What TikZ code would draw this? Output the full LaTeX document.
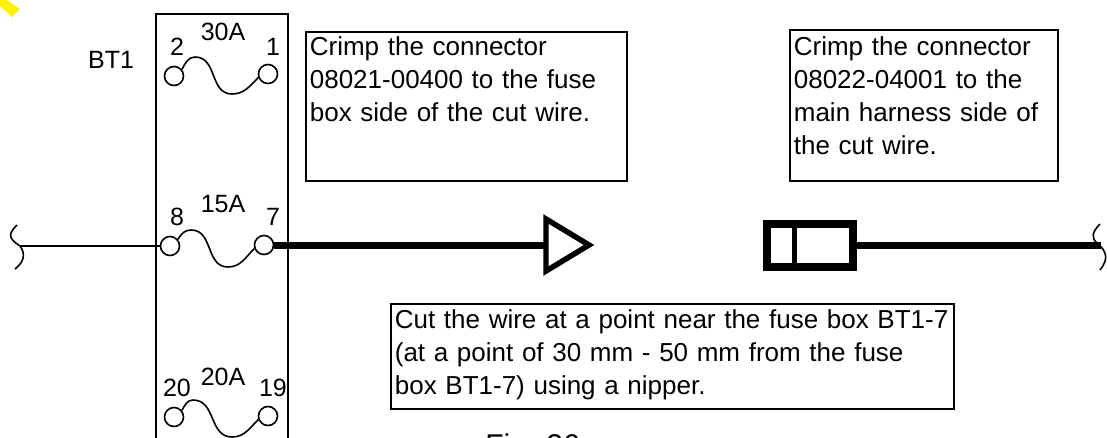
\documentclass[tikz,border=0pt]{standalone}
\usepackage{fontspec}
\setmainfont{Liberation Sans}
\usepackage{tikz}

\tikzset{
    tag/.style={inner sep=0pt, font=\fontsize{18.75}{24.75}\selectfont},
    pin/.style={circle, draw, line width=1.2pt, minimum size=14.25pt, inner sep=0pt},
    note/.style={draw, line width=1.3pt, anchor=north west, align=left, inner xsep=3pt, inner ysep=0pt, font=\fontsize{19.5}{24.75}\selectfont},
    fuse/.style={line width=1.2pt},
    thin wire/.style={line width=1.1pt},
    thick wire/.style={line width=5.25pt}
}

\begin{document}
\begin{tikzpicture}[x=0.75pt, y=-0.75pt]
    \clip (0,0) rectangle (1107,437);
    \fill[yellow] (7,0) -- (20,9) -- (12,17) -- (0,6) -- (0,0) -- cycle;

    \node[draw, line width=1.2pt, anchor=north west, minimum width=99pt, minimum height=340pt] (fusebox) at (155,13) {};
    \node[tag] (bt) at (111,60) {BT1};

    \node[pin] (p2) at (174,76) {};
    \node[pin] (p1) at (268,74) {};
    \coordinate (crest1) at (195,57);
    \coordinate (trough1) at (232,94);
    \draw[fuse] (p2.40) to[out=60,in=180] (crest1) to[out=0,in=180,looseness=1.1] (trough1) to[out=0,in=225] (p1.200);
    \node[tag] (n2) at (177,47) {2};
    \node[tag] (n1) at (273,47) {1};
    \node[tag] (a30) at (223,32) {30A};

    \node[pin] (p8) at (170,246) {};
    \node[pin] (p7) at (264,245) {};
    \coordinate (crest7) at (191,230);
    \coordinate (trough7) at (228,267);
    \draw[fuse] (p8.40) to[out=60,in=180] (crest7) to[out=0,in=180,looseness=1.1] (trough7) to[out=0,in=225] (p7.200);
    \node[tag] (n8) at (177,217) {8};
    \node[tag] (n7) at (273,217) {7};
    \node[tag] (a15) at (223,204) {15A};

    \node[pin] (p20) at (174,417) {};
    \node[pin] (p19) at (268,416) {};
    \coordinate (crest19) at (193,400);
    \coordinate (trough19) at (232,437);
    \draw[fuse] (p20.40) to[out=60,in=180] (crest19) to[out=0,in=180,looseness=1.1] (trough19) to[out=0,in=225] (p19.200);
    \node[tag] (n20) at (177,388) {20};
    \node[tag] (n19) at (273,388) {19};
    \node[tag] (a20) at (223,377) {20A};

    % left end of the wire
    \coordinate (tail) at (20,246);
    \draw[fuse] (17,225) .. controls (8,234) and (8,238) .. (tail) .. controls (26,254) and (24,262) .. (15,269);
    \draw[thin wire] (tail) -- (p8.west);

    % cut ends
    \coordinate (cut) at (546,245);
    \draw[thick wire] (p7.east) -- (cut);
    \draw[line width=4.1pt, miter limit=10] (cut) -- (546,219) -- (589,245) -- (546,271) -- cycle;

    \node[draw, line width=6pt, minimum width=64.5pt, minimum height=32.25pt, outer sep=0pt] (sleeve) at (810,245) {};
    \coordinate (sleevetop) at (794.5,223);
    \coordinate (sleevebot) at (794.5,266);
    \draw[line width=4.1pt] (sleevetop) -- (sleevebot);
    \coordinate (head) at (1101,245);
    \draw[thick wire] (sleeve.east) -- (head);
    \draw[fuse] (1100,224) .. controls (1092,232) and (1091,238) .. (1097,243) .. controls (1108,252) and (1108,260) .. (1100,270);

    % notes
    \node[note, text width=235pt, text height=18pt, text depth=93.75pt] (crimpa) at (305,31) {Crimp the connector\\08021-00400 to the fuse\\box side of the cut wire.};
    \node[note, text width=195pt, text height=19.5pt, text depth=93.75pt] (crimpb) at (789,29) {Crimp the connector\\08022-04001 to the\\main harness side of\\the cut wire.};
    \node[note, text width=416.25pt, text height=18.75pt, text depth=60pt] (cutnote) at (390,303) {Cut the wire at a point near the fuse box BT1-7\\(at a point of 30 mm - 50 mm from the fuse\\box BT1-7) using a nipper.};

    \node[anchor=base west, inner sep=0pt, font=\fontsize{22.5}{27}\selectfont] (fig) at (485,455.5) {Fig. 26};
\end{tikzpicture}
\end{document}
